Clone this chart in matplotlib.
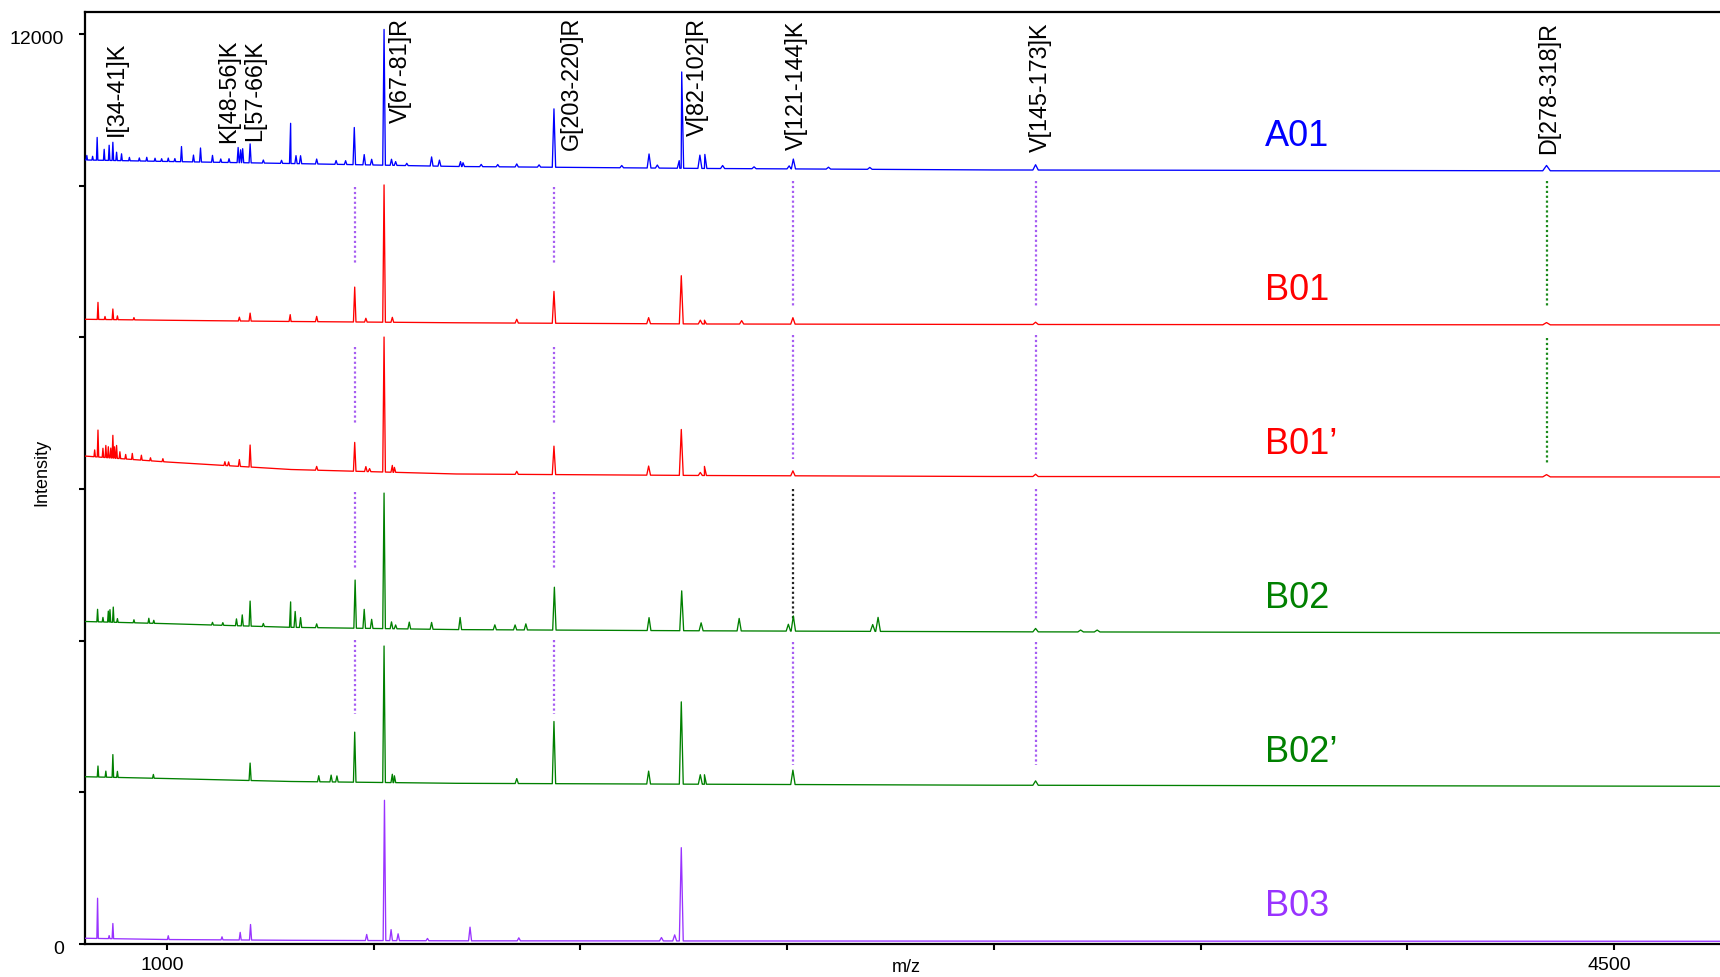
import numpy as np
import matplotlib
matplotlib.use("Agg")
import matplotlib.pyplot as plt
from matplotlib.transforms import ScaledTranslation

plt.rcParams['font.family'] = ['Liberation Sans', 'DejaVu Sans']

# ---------------- data ----------------
samples = ["B03", "B02\u2019", "B02", "B01\u2019", "B01", "A01"]
colors = ["#9933ff", "#008000", "#008000", "#ff0000", "#ff0000", "#0000ff"]
offset_step = 2030

# baseline anchors (m/z) and levels above each trace's offset
base_mz = [800, 1000, 1300, 1700, 2300, 3000, 4760]
base_B03 = [76, 59, 49, 42, 40, 38, 36]
base_B02p = [176, 152, 113, 89, 77, 64, 50]
base_B02 = [193, 164, 116, 86, 70, 57, 41]
base_B01p = [345, 266, 167, 108, 88, 75, 68]
base_B01 = [118, 105, 89, 72, 56, 50, 43]
base_A01 = [189, 169, 142, 103, 77, 57, 43]

# peaks: m/z and height above baseline
mz_A01 = [806, 820, 831, 848, 860, 869, 878, 890, 909, 933, 951, 971, 987, 1003, 1019,
          1035, 1064, 1081, 1110, 1130, 1150, 1172, 1178, 1183, 1201,
          1233, 1277, 1299, 1312, 1323, 1362, 1409, 1432, 1453, 1477, 1495, 1525, 1543,
          1553, 1580, 1640, 1659, 1710, 1716, 1760, 1800, 1846, 1900, 1936, 2100, 2166,
          2186, 2239, 2245, 2289, 2301, 2344, 2420, 2505, 2515, 2600, 2700, 3101, 4337]
h_A01 = [60, 50, 300, 145, 200, 240, 110, 90, 45, 40, 50, 40, 35, 45, 40,
         200, 90, 185, 90, 45, 50, 200, 170, 185, 250,
         40, 40, 530, 105, 105, 65, 50, 50, 490, 135, 75, 1790, 80,
         50, 30, 120, 80, 65, 50, 30, 30, 40, 30, 770, 30, 185,
         40, 100, 1270, 175, 185, 40, 25, 40, 130, 25, 25, 70, 70]

mz_B01 = [833, 850, 869, 880, 920, 1175, 1201, 1298, 1362, 1454, 1481, 1525, 1545, 1846,
          1936, 2165, 2244, 2290, 2300, 2390, 2514, 3101, 4337]
h_B01 = [225, 40, 140, 50, 30, 50, 105, 90, 70, 460, 50, 1810, 65, 50,
         420, 80, 635, 50, 50, 45, 85, 30, 30]

mz_B01p = [825, 833, 845, 852, 858, 864, 869, 873, 878, 886, 900, 916, 938, 960, 990,
           1140, 1149, 1175, 1201, 1362, 1454, 1481, 1490, 1525, 1545, 1550, 1846, 1936,
           2165, 2244, 2290, 2300, 2514, 3101, 4337]
h_B01p = [90, 355, 120, 160, 145, 130, 300, 150, 170, 90, 60, 80, 65, 40, 40,
          50, 50, 90, 290, 50, 380, 65, 40, 1780, 90, 65, 40, 375,
          120, 605, 40, 120, 65, 30, 30]

mz_B02 = [832, 845, 858, 862, 870, 880, 920, 956, 968, 1110, 1135, 1168, 1182, 1201, 1233,
          1299, 1310, 1323, 1362, 1455, 1477, 1495, 1525, 1543, 1553, 1586, 1640, 1709,
          1793, 1842, 1868, 1937, 2166, 2245, 2292, 2384, 2503, 2515, 2707, 2720, 3101,
          3210, 3250]
h_B02 = [165, 60, 145, 165, 200, 50, 40, 65, 40, 35, 35, 90, 145, 330, 40,
         335, 210, 130, 50, 635, 250, 120, 1787, 90, 50, 90, 90, 160,
         65, 65, 80, 565, 170, 525, 105, 165, 90, 200, 90, 185, 45,
         25, 25]

mz_B02p = [833, 852, 869, 880, 967, 1201, 1367, 1397, 1411, 1454, 1525, 1545, 1550, 1846,
           1936, 2165, 2244, 2290, 2300, 2514, 3101]
h_B02p = [145, 80, 300, 80, 50, 230, 80, 90, 80, 660, 1800, 110, 90, 65,
          820, 170, 1085, 125, 125, 190, 58]

mz_B03 = [832, 860, 869, 1003, 1133, 1177, 1202, 1483, 1526, 1542, 1559, 1630, 1733, 1851,
          2196, 2228, 2244]
h_B03 = [530, 40, 200, 50, 40, 100, 205, 80, 1850, 145, 90, 30, 180, 40,
         45, 80, 1230]

# peptide annotations
pep_labels = ["I[34-41]K", "K[48-56]K", "L[57-66]K", "V[67-81]R", "G[203-220]R",
              "V[82-102]R", "V[121-144]K", "V[145-173]K", "D[278-318]R"]
pep_label_mz = [877, 1150, 1213, 1564, 1977, 2283, 2522, 3112, 4341]
pep_label_y = [10650, 10560, 10590, 10830, 10470, 10650, 10470, 10450, 10420]

# dotted marker lines: m/z, y-start, y-end, colour
mark_mz = [1454, 1454, 1454, 1454, 1936, 1936, 1936, 1936,
           2514, 2514, 2514, 2514, 3101, 3101, 3101, 3101, 4337, 4337]
mark_y0 = [9987, 7877, 5954, 4015, 9987, 7877, 5954, 4015,
           10062, 8036, 6000, 3986, 10062, 8036, 6000, 3986, 10062, 7993]
mark_y1 = [8954, 6851, 4956, 3033, 8954, 6851, 4956, 3033,
           8400, 6402, 4273, 2366, 8400, 6402, 4273, 2366, 8400, 6330]
mark_col = ["p"] * 10 + ["k"] + ["p"] * 5 + ["g", "g"]

x_ticks = [1000, 1500, 2000, 2500, 3000, 3500, 4000, 4500]
x_ticklabels = ["1000", "", "", "", "", "", "", "4500"]
y_ticks = [0, 2000, 4000, 6000, 8000, 10000, 12000]
y_ticklabels = ["0", "", "", "", "", "", "12000"]

# ---------------- drawing ----------------
W, H = 1720, 977
fig = plt.figure(figsize=(W / 100, H / 100), dpi=100)
ax = fig.add_axes([85 / W, 1 - 944 / H, 1 - 85 / W, (944 - 12) / H])

bases = [base_B03, base_B02p, base_B02, base_B01p, base_B01, base_A01]
mzs = [mz_B03, mz_B02p, mz_B02, mz_B01p, mz_B01, mz_A01]
hs = [h_B03, h_B02p, h_B02, h_B01p, h_B01, h_A01]


def trace(bmz, blev, pmz, ph):
    bmz = np.asarray(bmz, float)
    blev = np.asarray(blev, float)
    xs = list(bmz)
    ys = list(blev)
    for m, h in zip(pmz, ph):
        w = 0.0021 * m
        for xx, extra in ((m - w, 0.0), (m, h), (m + w, 0.0)):
            xs.append(xx)
            ys.append(np.interp(xx, bmz, blev) + extra)
    order = np.argsort(xs, kind="stable")
    return np.asarray(xs)[order], np.asarray(ys)[order]


for i in range(6):
    x, y = trace(base_mz, bases[i], mzs[i], hs[i])
    ax.plot(x, y + i * offset_step, color=colors[i], lw=0.95, zorder=3)
    ax.text(3656, 500 + i * offset_step, samples[i], color=colors[i], fontsize=26,
            ha="left", va="center")

cmap = {"p": "#a65cf2", "k": "#222222", "g": "#1a8a1a"}
for m, y0, y1, c in zip(mark_mz, mark_y0, mark_y1, mark_col):
    ax.plot([m, m], [y0, y1], color=cmap[c], lw=1.6, ls=(0, (1, 1.2)), zorder=2)

for lab, m, yy in zip(pep_labels, pep_label_mz, pep_label_y):
    ax.text(m, yy, lab, rotation=90, ha="center", va="bottom", fontsize=16.8,
            color="black")

ax.set_xlim(801.6, 4756.6)
ax.set_ylim(0, 12290)
ax.set_xticks(x_ticks)
ax.set_xticklabels(x_ticklabels)
ax.set_yticks(y_ticks)
ax.set_yticklabels(y_ticklabels)
ax.spines["right"].set_visible(False)
for s in ("left", "top", "bottom"):
    ax.spines[s].set_linewidth(1.6)
ax.tick_params(direction="out", length=4.5, width=1.5, labelsize=14)
ax.tick_params(axis="x", pad=5)
ax.tick_params(axis="y", pad=10.5)

for lbl in ax.get_xticklabels():
    lbl.set_transform(lbl.get_transform() + ScaledTranslation(-5 / 100, 0, fig.dpi_scale_trans))
for lbl in ax.get_yticklabels():
    lbl.set_transform(lbl.get_transform() + ScaledTranslation(0, -4 / 100, fig.dpi_scale_trans))

fig.text(42 / W, 1 - 472 / H, "Intensity", rotation=90, ha="center", va="center",
         fontsize=13)
fig.text(906 / W, 1 - 967 / H, "m/z", ha="center", va="center", fontsize=13)

fig.savefig("out.png", dpi=100)
